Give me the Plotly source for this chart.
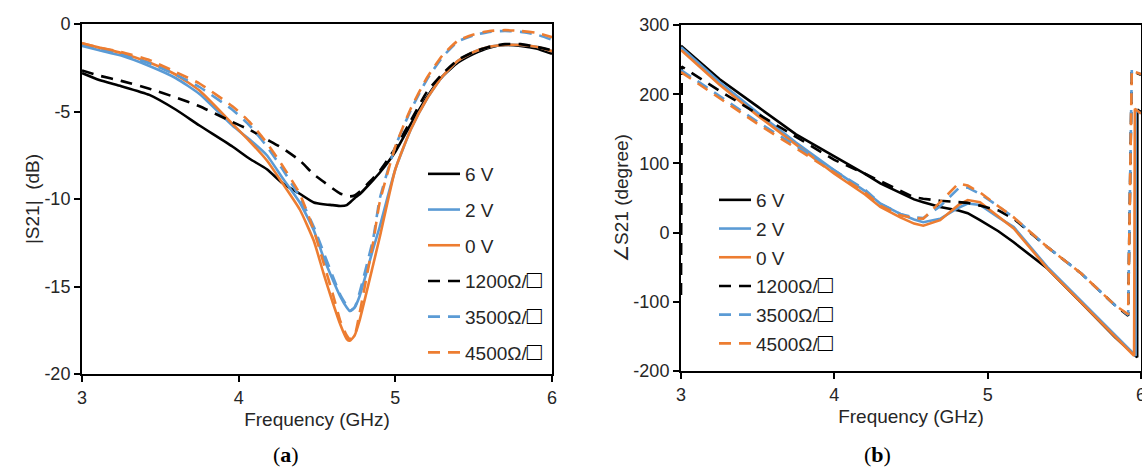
import plotly.graph_objects as go

box = '<b><span style="font-size:25px;fill:#000000">□</span></b>'
names = ["6 V", "2 V", "0 V", "1200Ω/" + box, "3500Ω/" + box, "4500Ω/" + box]
colors = ["#000000", "#5B9BD5", "#ED7D31", "#000000", "#5B9BD5", "#ED7D31"]
dashes = ["solid", "solid", "solid", "12px,8px", "12px,8px", "12px,8px"]

x_ticks = [3, 4, 5, 6]
y_ticks_a = [0, -5, -10, -15, -20]
y_labels_a = ["0", "-5", "-10", "-15", "-20"]
y_ticks_b = [300, 200, 100, 0, -100, -200]
y_labels_b = ["300", "200", "100", "0", "-100", "-200"]

# (a) magnitude
freq_a = [3, 3.11, 3.25, 3.43, 3.6, 3.75, 3.96, 4.07, 4.18, 4.28, 4.39, 4.48, 4.54, 4.6, 4.65, 4.69,
          4.71, 4.74, 4.77, 4.86, 4.9, 5.0, 5.1, 5.2, 5.3, 5.4, 5.5, 5.6, 5.7, 5.8, 5.9, 6]
mag_6v = [-2.8, -3.2, -3.55, -4.05, -4.9, -5.8, -7.0, -7.7, -8.3, -9.1, -9.7, -10.2, -10.3, -10.35, -10.4, -10.35,
          -10.2, -9.95, -9.75, -8.9, -8.5, -7.3, -5.7, -4.2, -3.0, -2.2, -1.7, -1.35, -1.2, -1.25, -1.4, -1.7]
mag_2v = [-1.25, -1.5, -1.8, -2.4, -3.1, -4.0, -5.8, -6.6, -7.5, -8.8, -10.2, -11.8, -13.3, -14.6, -15.6, -16.2,
          -16.4, -16.2, -15.6, -12.8, -11.6, -8.3, -6.0, -4.3, -3.0, -2.1, -1.6, -1.3, -1.2, -1.2, -1.3, -1.55]
mag_0v = [-1.1, -1.35, -1.65, -2.2, -2.9, -3.8, -5.7, -6.7, -7.8, -9.1, -10.6, -12.4, -14.2, -15.9, -17.2, -18.0,
          -18.1, -17.8, -17.0, -13.7, -12.2, -8.3, -6.0, -4.3, -3.0, -2.1, -1.6, -1.3, -1.2, -1.2, -1.3, -1.55]
mag_1200 = [-2.65, -2.95, -3.25, -3.7, -4.2, -4.7, -5.6, -6.05, -6.6, -7.1, -7.8, -8.6, -9.0, -9.4, -9.7, -9.8,
            -9.85, -9.8, -9.6, -8.8, -8.4, -7.1, -5.5, -3.9, -2.85, -2.05, -1.6, -1.3, -1.15, -1.15, -1.3, -1.5]
mag_3500 = [-1.2, -1.45, -1.75, -2.25, -2.9, -3.6, -4.9, -5.8, -7.0, -8.3, -9.9, -11.6, -13.0, -14.4, -15.5, -16.1,
            -16.4, -16.2, -15.4, -12.2, -10.0, -7.0, -4.9, -3.2, -1.9, -1.0, -0.65, -0.45, -0.4, -0.45, -0.6, -0.9]
mag_4500 = [-1.1, -1.35, -1.6, -2.05, -2.75, -3.4, -4.7, -5.6, -6.8, -8.1, -9.7, -11.8, -13.6, -15.4, -17.0, -17.8,
            -18.0, -17.8, -16.6, -12.4, -10.2, -7.0, -4.8, -3.1, -1.8, -0.95, -0.6, -0.4, -0.35, -0.4, -0.5, -0.75]

# (b) phase, same frequencies up to 5.83 then each curve wraps at its own point
freq_b = [3, 3.25, 3.5, 3.75, 4, 4.2, 4.3, 4.43, 4.52, 4.58, 4.69, 4.81, 4.87, 4.95, 5.07, 5.17, 5.39, 5.61, 5.83]
ph_6v = [270, 222, 182, 142, 110, 85, 71, 58, 48, 44, 37, 32, 28, 18, 2, -14, -52, -101, -151]
ph_2v = [268, 218, 173, 130, 90, 60, 42, 27, 19, 15, 20, 36, 42, 40, 22, 8, -50, -99, -148]
ph_0v = [264, 214, 169, 127, 85, 55, 37, 22, 13, 10, 18, 40, 47, 44, 24, 6, -52, -101, -150]
ph_1200 = [240, 205, 172, 138, 105, 85, 74, 60, 51, 49, 46, 44, 43, 39, 32, 20, -21, -59, -105]
ph_3500 = [235, 197, 160, 125, 90, 62, 42, 27, 22, 21, 38, 64, 65, 56, 38, 22, -21, -59, -105]
ph_4500 = [232, 194, 157, 122, 87, 58, 39, 25, 21, 20, 44, 71, 68, 58, 38, 22, -21, -59, -105]

# the 1200 curve also wraps right at the start, running up the left axis
head_1200 = ([3.0], [-90])
no_head = ([], [])

tail_6v = ([5.975, 5.976, 6], [-180, 178, 174])
tail_2v = ([5.965, 5.966, 6], [-178, 178, 172])
tail_0v = ([5.955, 5.96, 6], [-178, 179, 172])
tail_1200 = ([5.916, 5.94, 5.95, 6], [-120, 235, 233, 228])
tail_3500 = ([5.916, 5.94, 5.95, 6], [-119, 236, 234, 229])
tail_4500 = ([5.916, 5.94, 5.95, 6], [-118, 235, 233, 229])

mags = [mag_6v, mag_2v, mag_0v, mag_1200, mag_3500, mag_4500]
phases = [ph_6v, ph_2v, ph_0v, ph_1200, ph_3500, ph_4500]
heads = [no_head, no_head, no_head, head_1200, no_head, no_head]
tails = [tail_6v, tail_2v, tail_0v, tail_1200, tail_3500, tail_4500]

W, H = 1142, 468
text_col = "#262626"

fig = go.Figure()
for i in range(6):
    fig.add_trace(go.Scatter(
        x=freq_a, y=mags[i], mode="lines", name=names[i], legend="legend", legendgroup="a" + str(i),
        line=dict(color=colors[i], width=2.6, dash=dashes[i], shape="spline", smoothing=0.5),
        xaxis="x", yaxis="y"))
for i in range(6):
    # nudge the first real point off the axis when there is a wrap before it
    start = [3.005] if heads[i][0] else [3]
    fig.add_trace(go.Scatter(
        x=heads[i][0] + start + freq_b[1:] + tails[i][0], y=heads[i][1] + phases[i] + tails[i][1], mode="lines",
        name=names[i], legend="legend2", legendgroup="b" + str(i),
        line=dict(color=colors[i], width=2.6, dash=dashes[i]),
        xaxis="x2", yaxis="y2"))

axis_style = dict(showgrid=False, zeroline=False, showline=True, mirror=True, linecolor="#000000", linewidth=2,
                  ticks="outside", ticklen=6, tickwidth=1.5, tickcolor="#000000", automargin=False,
                  ticklabeloverflow="allow", tickfont=dict(size=18, color=text_col))
title_font = dict(size=19, color=text_col)

fig.update_layout(
    width=W, height=H, autosize=False, margin=dict(l=0, r=0, t=0, b=0),
    paper_bgcolor="white", plot_bgcolor="white",
    font=dict(family="Liberation Sans, Arial, sans-serif", color=text_col),
    xaxis=dict(domain=[82 / W, 552 / W], range=[3, 6], tickvals=x_ticks, anchor="y",
               title=dict(text="Frequency (GHz)", font=title_font, standoff=6), **axis_style),
    yaxis=dict(domain=[1 - 374 / H, 1 - 24 / H], range=[-20, 0], tickvals=y_ticks_a, ticktext=y_labels_a, anchor="x",
               title=dict(text="|S21|  (dB)", font=title_font, standoff=0), **axis_style),
    xaxis2=dict(domain=[681 / W, 1141 / W], range=[3, 6], tickvals=x_ticks, anchor="y2",
                title=dict(text="Frequency (GHz)", font=title_font, standoff=6), **axis_style),
    yaxis2=dict(domain=[1 - 371 / H, 1 - 25 / H], range=[-200, 300], tickvals=y_ticks_b, ticktext=y_labels_b, anchor="x2",
                title=dict(text="∠S21 (degree)", font=title_font, standoff=0), **axis_style),
    legend=dict(x=423 / W, y=1 - 155 / H, xanchor="left", yanchor="top", bgcolor="rgba(0,0,0,0)",
                font=dict(size=19, color=text_col), itemwidth=32, tracegroupgap=8),
    legend2=dict(x=714 / W, y=1 - 181 / H, xanchor="left", yanchor="top", bgcolor="rgba(0,0,0,0)",
                 font=dict(size=19, color=text_col), itemwidth=32, tracegroupgap=1),
    annotations=[
        dict(text="(<b>a</b>)", x=286 / W, y=1 - 454 / H, xref="paper", yref="paper", showarrow=False,
             xanchor="center", yanchor="middle",
             font=dict(family="Liberation Serif, serif", size=22, color="#000000")),
        dict(text="(<b>b</b>)", x=877 / W, y=1 - 454 / H, xref="paper", yref="paper", showarrow=False,
             xanchor="center", yanchor="middle",
             font=dict(family="Liberation Serif, serif", size=22, color="#000000")),
    ],
)

fig.write_html("out.html", config=dict(displayModeBar=False),
               post_script="document.body.style.margin='0';document.body.style.overflow='hidden';")
